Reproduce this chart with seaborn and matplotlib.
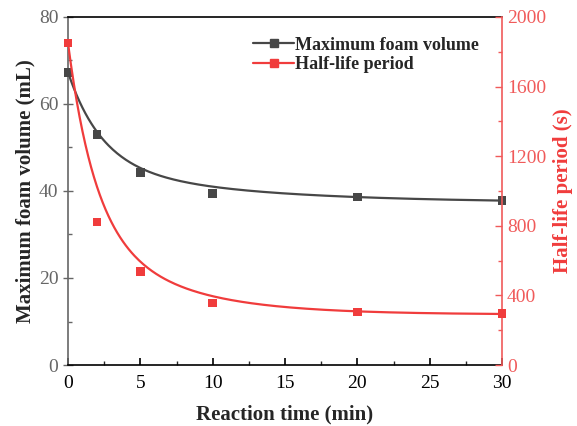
import numpy as np
import pandas as pd
import matplotlib
matplotlib.use("Agg")
import matplotlib.pyplot as plt
from matplotlib.lines import Line2D
from matplotlib.ticker import MultipleLocator
import seaborn as sns

# ---- data ----
reaction_time = [0, 2, 5, 10, 20, 30]
max_foam_volume = [67.2, 52.9, 44.3, 39.4, 38.6, 37.8]      # mL (left axis)
half_life = [1851, 822, 537, 356, 305, 298]                 # s (right axis)

# fitted-curve parameters (two-term exponential decay)
foam_fit = dict(c=37.3, a1=21.1, t1=2.34, a2=8.9, t2=10.4)
half_fit = dict(c=290.0, a1=1004.0, t1=1.85, a2=556.0, t2=5.86)

def expdec2(x, c, a1, t1, a2, t2):
    return c + a1 * np.exp(-x / t1) + a2 * np.exp(-x / t2)

x_fit = np.linspace(0, 30, 301)
fit_df = pd.DataFrame({
    "t": x_fit,
    "foam": expdec2(x_fit, **foam_fit),
    "half": expdec2(x_fit, **half_fit),
})
pts = pd.DataFrame({"t": reaction_time, "foam": max_foam_volume, "half": half_life})

sns.set_style("white")
plt.rcParams["font.family"] = ["Liberation Serif", "DejaVu Serif"]

BLACK = "#474747"
RED = "#F03C3C"
RED_LIGHT = "#F05A5A"
GRAY = "#666666"

fig = plt.figure(figsize=(5.77, 4.26), dpi=100)
ax = fig.add_axes([68/577, 61/426, (502-68)/577, (365-17)/426])
ax2 = ax.twinx()

sns.lineplot(data=fit_df, x="t", y="foam", ax=ax, color=BLACK, lw=1.6)
sns.scatterplot(data=pts, x="t", y="foam", ax=ax, color=BLACK, marker="s", s=40,
                edgecolor="none", zorder=5, clip_on=False)
sns.lineplot(data=fit_df, x="t", y="half", ax=ax2, color=RED, lw=1.6)
sns.scatterplot(data=pts, x="t", y="half", ax=ax2, color=RED, marker="s", s=40,
                edgecolor="none", zorder=5, clip_on=False)

ax.set_xlim(0, 30)
ax.set_ylim(0, 80)
ax2.set_ylim(0, 2000)
ax.xaxis.set_major_locator(MultipleLocator(5))
ax.xaxis.set_minor_locator(MultipleLocator(2.5))
ax.yaxis.set_major_locator(MultipleLocator(20))
ax.yaxis.set_minor_locator(MultipleLocator(10))
ax2.yaxis.set_major_locator(MultipleLocator(400))
ax2.yaxis.set_minor_locator(MultipleLocator(200))

for a in (ax, ax2):
    for s in a.spines.values():
        s.set_linewidth(1.2)
ax.spines["top"].set_color("black")
ax.spines["bottom"].set_color("black")
ax.spines["left"].set_color(GRAY)
ax2.spines["left"].set_visible(False)
ax2.spines["top"].set_visible(False)
ax2.spines["bottom"].set_visible(False)
ax2.spines["right"].set_color(RED_LIGHT)
ax.spines["right"].set_visible(False)

ax.tick_params(axis="x", which="major", direction="in", length=5, width=1.2,
               colors="black", labelsize=14, pad=7, bottom=True, top=False)
ax.tick_params(axis="x", which="minor", direction="in", length=3, width=1.0,
               bottom=True, top=False)
ax.tick_params(axis="y", which="major", direction="inout", length=7, width=1.0,
               colors=GRAY, labelsize=14, left=True, right=False)
ax.tick_params(axis="y", which="minor", direction="in", length=3, width=1.0,
               colors=GRAY, left=True, right=False)
ax2.tick_params(axis="y", which="major", direction="in", length=5, width=1.0,
                colors=RED_LIGHT, labelsize=14, right=True, left=False)
ax2.tick_params(axis="y", which="minor", direction="in", length=3, width=1.0,
                colors=RED_LIGHT, right=True, left=False)

ax.set_xlabel("Reaction time (min)", fontsize=15, fontweight="bold", labelpad=9)
ax.set_ylabel("Maximum foam volume (mL)", fontsize=15, fontweight="bold", labelpad=2)
ax2.set_ylabel("Half-life period (s)", fontsize=15, fontweight="bold",
               color=RED, labelpad=5)

handles = [
    Line2D([], [], color=BLACK, lw=1.6, marker="s", markersize=6),
    Line2D([], [], color=RED, lw=1.6, marker="s", markersize=6),
]
leg = ax.legend(handles, ["Maximum foam volume", "Half-life period"],
                loc="upper right", bbox_to_anchor=(0.985, 0.99), frameon=False,
                prop={"weight": "bold", "size": 13}, handlelength=2.3,
                handletextpad=0.05, labelspacing=0.15)

fig.savefig("out.png", dpi=100)
